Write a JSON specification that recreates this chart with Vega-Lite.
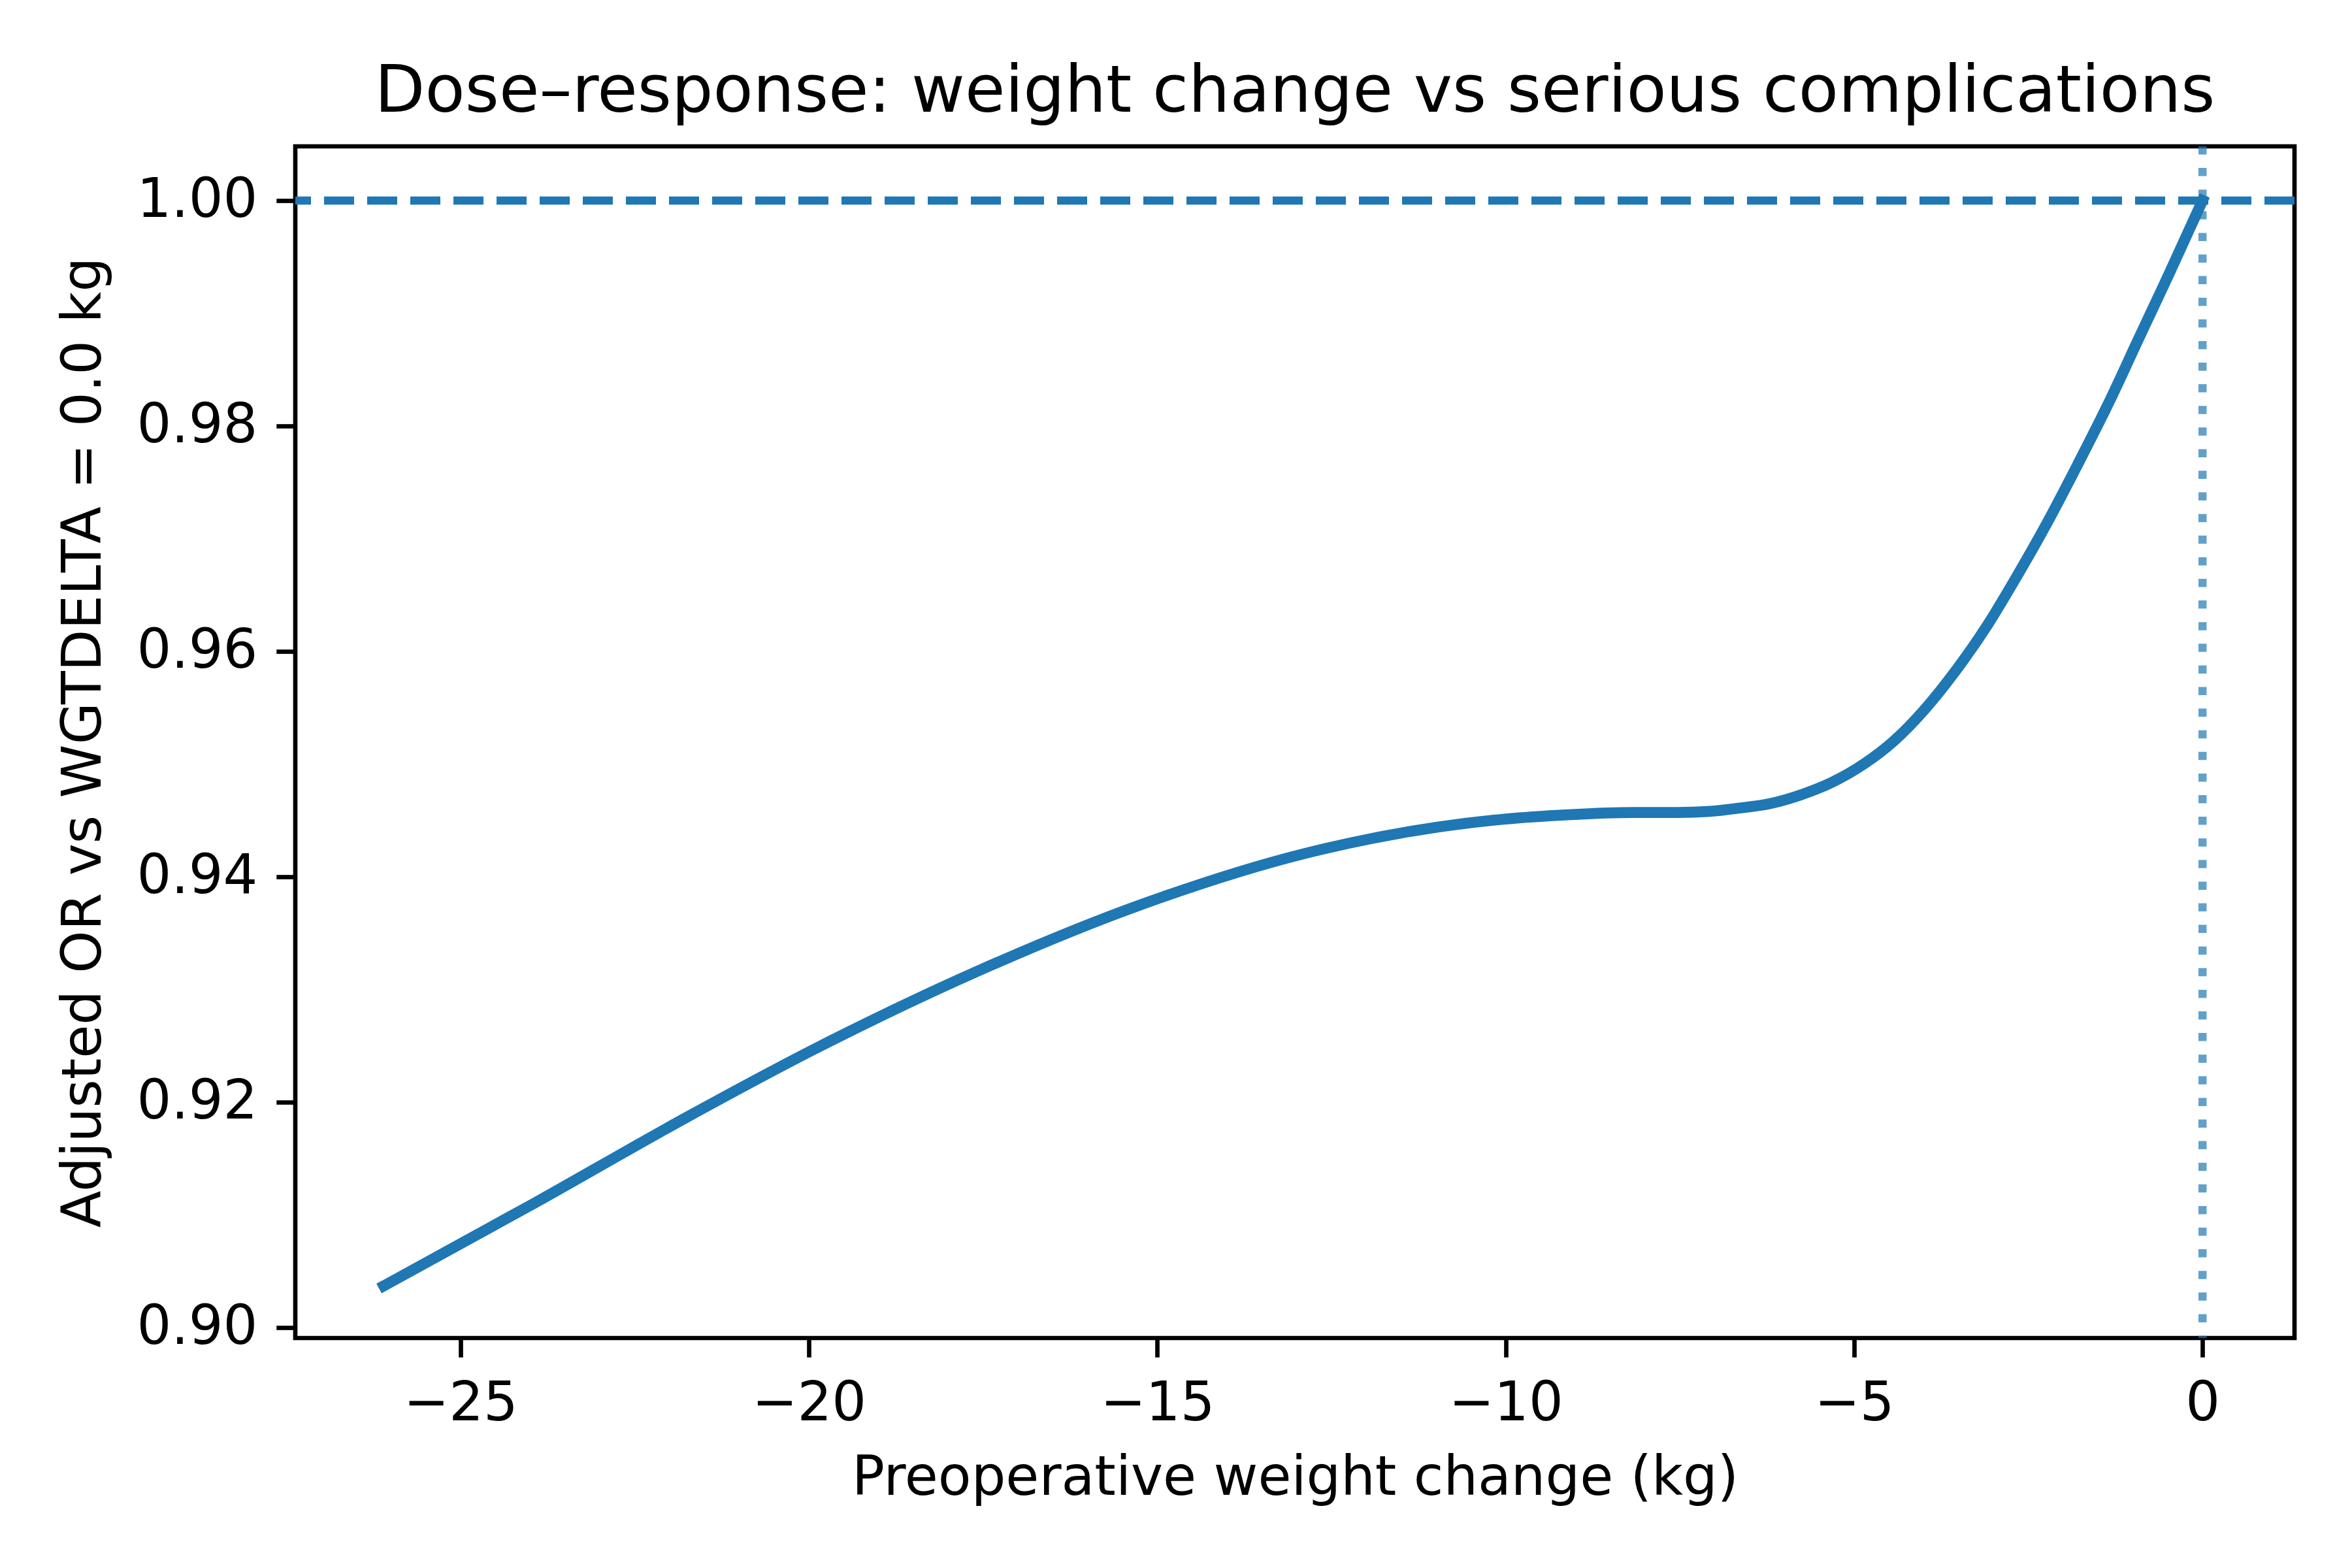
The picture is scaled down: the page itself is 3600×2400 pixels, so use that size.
{
  "$schema": "https://vega.github.io/schema/vega-lite/v6.json",
  "width": 3060,
  "height": 1824,
  "autosize": {"type": "none"},
  "padding": {"left": 452, "top": 224, "right": 88, "bottom": 352},
  "background": "white",
  "title": {
    "text": "Dose–response: weight change vs serious complications",
    "font": "DejaVu Sans",
    "fontSize": 100,
    "fontWeight": "normal",
    "color": "black",
    "anchor": "middle",
    "frame": "group",
    "baseline": "alphabetic",
    "offset": -53
  },
  "layer": [
    {
      "data": {
        "values": [
          {"weight_change_kg": -26.10, "adjusted_or": 0.9037},
          {"weight_change_kg": -23.95, "adjusted_or": 0.9110},
          {"weight_change_kg": -21.77, "adjusted_or": 0.9186},
          {"weight_change_kg": -19.89, "adjusted_or": 0.9248},
          {"weight_change_kg": -17.55, "adjusted_or": 0.9317},
          {"weight_change_kg": -15.20, "adjusted_or": 0.9376},
          {"weight_change_kg": -12.86, "adjusted_or": 0.9421},
          {"weight_change_kg": -11.92, "adjusted_or": 0.9434},
          {"weight_change_kg": -10.98, "adjusted_or": 0.9444},
          {"weight_change_kg": -10.04, "adjusted_or": 0.9451},
          {"weight_change_kg": -9.11, "adjusted_or": 0.9455},
          {"weight_change_kg": -8.17, "adjusted_or": 0.9457},
          {"weight_change_kg": -7.54, "adjusted_or": 0.9457},
          {"weight_change_kg": -7.07, "adjusted_or": 0.9458},
          {"weight_change_kg": -6.64, "adjusted_or": 0.9461},
          {"weight_change_kg": -6.20, "adjusted_or": 0.9465},
          {"weight_change_kg": -5.75, "adjusted_or": 0.9473},
          {"weight_change_kg": -5.31, "adjusted_or": 0.9484},
          {"weight_change_kg": -4.86, "adjusted_or": 0.9500},
          {"weight_change_kg": -4.42, "adjusted_or": 0.9521},
          {"weight_change_kg": -3.98, "adjusted_or": 0.9549},
          {"weight_change_kg": -3.54, "adjusted_or": 0.9583},
          {"weight_change_kg": -3.10, "adjusted_or": 0.9622},
          {"weight_change_kg": -2.67, "adjusted_or": 0.9666},
          {"weight_change_kg": -2.23, "adjusted_or": 0.9714},
          {"weight_change_kg": -1.79, "adjusted_or": 0.9766},
          {"weight_change_kg": -1.35, "adjusted_or": 0.9820},
          {"weight_change_kg": -0.92, "adjusted_or": 0.9877},
          {"weight_change_kg": -0.48, "adjusted_or": 0.9935},
          {"weight_change_kg": 0.0, "adjusted_or": 1.0}
        ]
      },
      "mark": {
        "type": "line",
        "color": "#1f77b4",
        "strokeWidth": 16.67,
        "interpolate": "monotone",
        "strokeCap": "square",
        "strokeJoin": "round"
      },
      "encoding": {
        "x": {
          "field": "weight_change_kg",
          "type": "quantitative",
          "title": "Preoperative weight change (kg)",
          "scale": {"domain": [-27.37, 1.32], "nice": false, "zero": false},
          "axis": {"values": [-25, -20, -15, -10, -5, 0], "format": "d"}
        },
        "y": {
          "field": "adjusted_or",
          "type": "quantitative",
          "title": "Adjusted OR vs WGTDELTA = 0.0 kg",
          "scale": {"domain": [0.89907, 1.00481], "nice": false, "zero": false},
          "axis": {"values": [0.90, 0.92, 0.94, 0.96, 0.98, 1.00], "format": ".2f"}
        }
      }
    },
    {
      "data": {"values": [{"adjusted_or": 1.0}]},
      "mark": {
        "type": "rule",
        "color": "#1f77b4",
        "strokeWidth": 12.5,
        "strokeDash": [46, 20],
        "strokeCap": "butt"
      },
      "encoding": {
        "y": {"field": "adjusted_or", "type": "quantitative", "title": "Adjusted OR vs WGTDELTA = 0.0 kg"}
      }
    },
    {
      "data": {"values": [{"weight_change_kg": 0}]},
      "mark": {
        "type": "rule",
        "color": "#1f77b4",
        "strokeWidth": 12.5,
        "strokeDash": [12.5, 20.6],
        "strokeCap": "butt",
        "opacity": 0.7
      },
      "encoding": {
        "x": {"field": "weight_change_kg", "type": "quantitative", "title": "Preoperative weight change (kg)"}
      }
    }
  ],
  "config": {
    "view": {"stroke": "black", "strokeWidth": 6.67},
    "axis": {
      "domain": false,
      "grid": false,
      "ticks": true,
      "tickSize": 29.2,
      "tickWidth": 6.67,
      "tickColor": "black",
      "labelFont": "DejaVu Sans",
      "labelFontSize": 83,
      "labelColor": "black",
      "labelPadding": 29,
      "labelLimit": 0,
      "labelFlush": false,
      "labelOverlap": false,
      "labelBound": false,
      "titleFont": "DejaVu Sans",
      "titleFontSize": 83,
      "titleFontWeight": "normal",
      "titleColor": "black",
      "titleLimit": 0
    },
    "axisX": {"labelPadding": 30, "titlePadding": 31},
    "axisY": {"titlePadding": 82}
  }
}
